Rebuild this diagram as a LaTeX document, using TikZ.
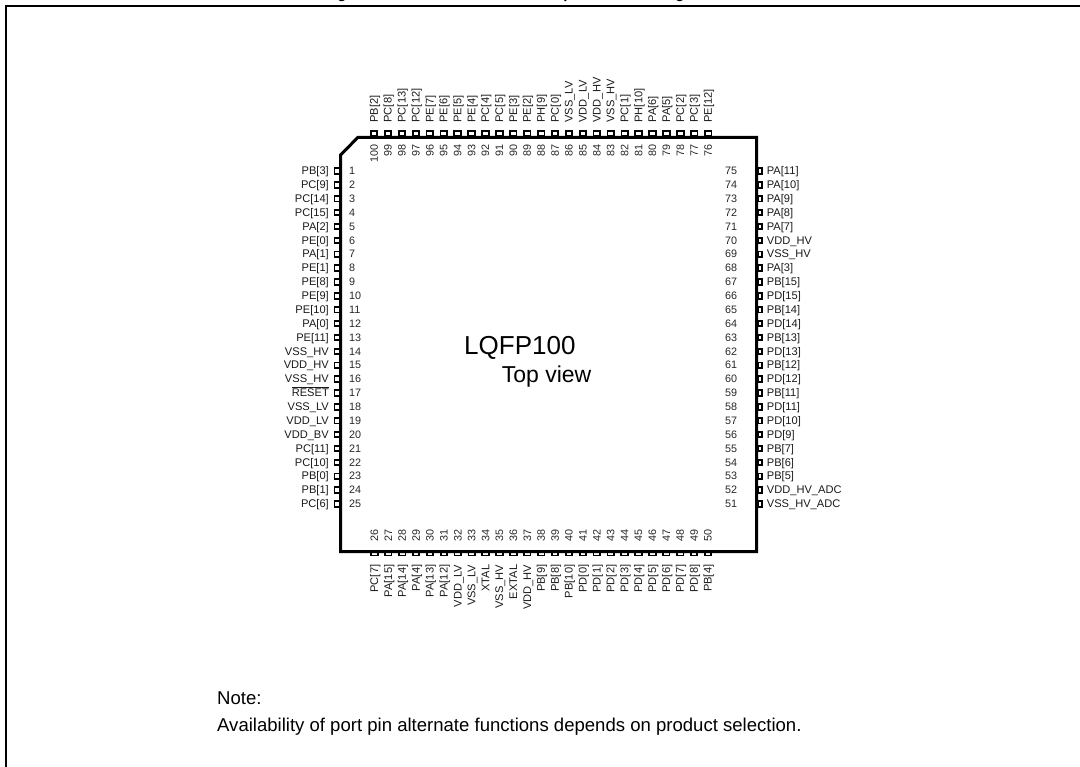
\documentclass[tikz,border=0pt]{standalone}
\usepackage{fontspec}
\setmainfont{Liberation Sans}
\tikzset{
  pinlabel/.style={font=\fontsize{11.1}{13}\selectfont, inner sep=0pt, text=black!90},
  pinnum/.style={font=\fontsize{10.8}{13}\selectfont, inner sep=0pt, text=black!85},
  pinbox/.style={draw=black, line width=1.8pt, fill=white, inner sep=0pt},
  bigtext/.style={inner sep=0pt, anchor=base west},
  titletext/.style={inner sep=0pt, anchor=base, font=\fontsize{15}{18}\selectfont\bfseries}
}
\begin{document}
\begin{tikzpicture}[x=1pt,y=-1pt]
\useasboundingbox (0,0) rectangle (1080,767);
% frame
\draw[line width=2pt] (6,767) -- (6,6) -- (1080,6);
% clipped title
\node[titletext] (tg1) at (342,-1) {g};
\node[titletext] (tp) at (568,-1) {p};
\node[titletext] (tg2) at (680,-1) {g};
% left
\foreach \t [count=\i from 1] in {PB[3],PC[9],PC[14],PC[15],PA[2],PE[0],PA[1],PE[1],PE[8],PE[9],PE[10],PA[0],PE[11],VSS\_HV,VDD\_HV,VSS\_HV,$\overline{\mbox{RESET}}$,VSS\_LV,VDD\_LV,VDD\_BV,PC[11],PC[10],PB[0],PB[1],PC[6]} {
  \pgfmathsetmacro{\yy}{171+(\i-1)*13.875}
  \node[pinbox, minimum width=5pt, minimum height=5.5pt] (p\i) at (337,\yy) {};
  \node[pinlabel, anchor=base east] (l\i) at (329,\yy+3.7) {\t};
  \node[pinnum, anchor=base west] (n\i) at (349,\yy+3.7) {\i};
}
% bottom
\foreach \t [count=\i from 26] in {PC[7],PA[15],PA[14],PA[4],PA[13],PA[12],VDD\_LV,VSS\_LV,XTAL,VSS\_HV,EXTAL,VDD\_HV,PB[9],PB[8],PB[10],PD[0],PD[1],PD[2],PD[3],PD[4],PD[5],PD[6],PD[7],PD[8],PB[4]} {
  \pgfmathsetmacro{\xx}{374.4+(\i-26)*13.9}
  \node[pinbox, minimum width=6.5pt, minimum height=4pt] (p\i) at (\xx,553.5) {};
  \node[pinlabel, rotate=90, anchor=base east] (l\i) at (\xx+3.7,564.5) {\t};
  \node[pinnum, rotate=90, anchor=base west] (n\i) at (\xx+3.7,542) {\i};
}
% right
\foreach \t [count=\i from 51] in {VSS\_HV\_ADC,VDD\_HV\_ADC,PB[5],PB[6],PB[7],PD[9],PD[10],PD[11],PB[11],PD[12],PB[12],PD[13],PB[13],PD[14],PB[14],PD[15],PB[15],PA[3],VSS\_HV,VDD\_HV,PA[7],PA[8],PA[9],PA[10],PA[11]} {
  \pgfmathsetmacro{\yy}{504-(\i-51)*13.875}
  \node[pinbox, minimum width=3.5pt, minimum height=5.5pt] (p\i) at (760,\yy) {};
  \node[pinlabel, anchor=base west] (l\i) at (766.7,\yy+3.7) {\t};
  \node[pinnum, anchor=base west] (n\i) at (725,\yy+3.7) {\i};
}
% top
\foreach \t [count=\i from 76] in {PE[12],PC[3],PC[2],PA[5],PA[6],PH[10],PC[1],VSS\_HV,VDD\_HV,VDD\_LV,VSS\_LV,PC[0],PH[9],PE[2],PE[3],PC[5],PC[4],PE[4],PE[5],PE[6],PE[7],PC[12],PC[13],PC[8],PB[2]} {
  \pgfmathsetmacro{\xx}{708.2-(\i-76)*13.92}
  \node[pinbox, minimum width=6.5pt, minimum height=5pt] (p\i) at (\xx,133.5) {};
  \node[pinlabel, rotate=90, anchor=base west] (l\i) at (\xx+3.7,122.7) {\t};
  \node[pinnum, rotate=90, anchor=base east] (n\i) at (\xx+3.7,144) {\i};
}
% package
\draw[line width=3pt, miter limit=10] (358,137.3) -- (756.7,137.3) -- (756.7,551.5) -- (340.5,551.5) -- (340.5,155) -- cycle;
% centre text
\node[bigtext, font=\fontsize{26}{30}\selectfont] (pkg) at (464,355) {LQFP100};
\node[bigtext, font=\fontsize{23}{27}\selectfont] (view) at (501.7,383) {Top view};
% note
\node[bigtext, font=\fontsize{18.55}{22}\selectfont] (note) at (217,704.3) {Note:};
\node[bigtext, font=\fontsize{18.55}{22}\selectfont] (avail) at (217,731) {Availability of port pin alternate functions depends on product selection.};
\end{tikzpicture}
\end{document}
